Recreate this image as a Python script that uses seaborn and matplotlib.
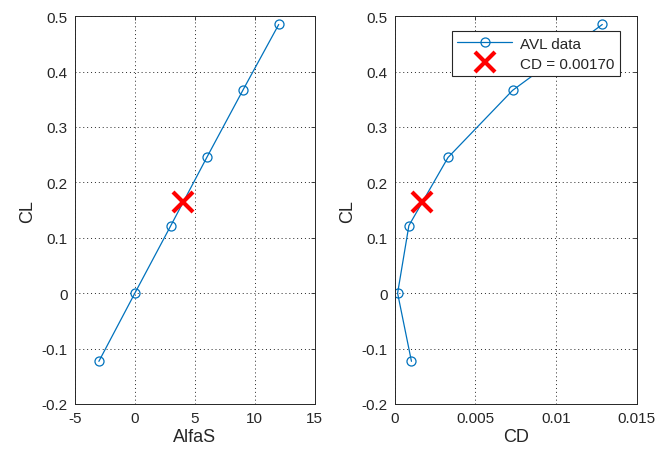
import matplotlib
matplotlib.use("Agg")
import matplotlib.pyplot as plt
import seaborn as sns
import pandas as pd

alfa = [-3, 0, 3, 6, 9, 12]
cl = [-0.123, 0.0, 0.122, 0.245, 0.366, 0.485]
cd = [0.00103, 0.00017, 0.00087, 0.0033, 0.0073, 0.01287]
target_alfa = [4.0]
target_cl = [0.164]
target_cd = [0.0017]
legend_labels = ["AVL data", "CD = 0.00170"]

sns.set_style("white")
plt.rcParams['font.family'] = ['Liberation Sans', 'DejaVu Sans']

df = pd.DataFrame({"AlfaS": alfa, "CL": cl, "CD": cd})
dft = pd.DataFrame({"AlfaS": target_alfa, "CL": target_cl, "CD": target_cd})

blue = "#0072BD"
fig = plt.figure(figsize=(6.57, 4.52), dpi=100)
ax1 = fig.add_axes([0.114, 0.104, 0.365, 0.858])
ax2 = fig.add_axes([0.601, 0.104, 0.368, 0.858])

for ax, xcol in [(ax1, "AlfaS"), (ax2, "CD")]:
    sns.lineplot(data=df, x=xcol, y="CL", ax=ax, sort=False, color=blue,
                 linewidth=0.9, marker="o", markersize=6.5,
                 markerfacecolor="none", markeredgecolor=blue,
                 markeredgewidth=0.9, label=legend_labels[0])
    ax.plot(dft[xcol], dft["CL"], linestyle="none", marker="x", color="red",
            markersize=14, markeredgewidth=3, label=legend_labels[1])
    ax.set_ylim(-0.2, 0.5)
    ax.set_yticks([-0.2, -0.1, 0, 0.1, 0.2, 0.3, 0.4, 0.5])
    ax.set_yticklabels(["-0.2", "-0.1", "0", "0.1", "0.2", "0.3", "0.4", "0.5"])
    ax.grid(True, linestyle=(0, (1, 3)), color="#262626", linewidth=0.7)
    ax.tick_params(direction="in", top=True, right=True, labelsize=11,
                   length=3, width=0.6, colors="#262626", pad=5)
    for s in ax.spines.values():
        s.set_visible(True)
        s.set_color("#262626")
        s.set_linewidth(0.7)
    ax.set_ylabel("CL", fontsize=13, color="#262626", labelpad=4)
    ax.set_xlabel(xcol, fontsize=13, color="#262626", labelpad=2)

ax1.set_xlim(-5, 15)
ax1.set_xticks([-5, 0, 5, 10, 15])
ax1.set_xticklabels(["-5", "0", "5", "10", "15"])
ax1.get_legend().remove()

ax2.set_xlim(0, 0.015)
ax2.set_xticks([0, 0.005, 0.01, 0.015])
ax2.set_xticklabels(["0", "0.005", "0.01", "0.015"])
leg = ax2.legend(loc="upper right", bbox_to_anchor=(0.93, 0.961), fontsize=11,
                 frameon=True, fancybox=False, edgecolor="#262626",
                 handlelength=3.6, borderpad=0.35, labelspacing=0.4,
                 handletextpad=0.5, borderaxespad=0)
leg.get_frame().set_linewidth(0.8)
leg.get_frame().set_alpha(1)

fig.savefig("out.png", dpi=100)
